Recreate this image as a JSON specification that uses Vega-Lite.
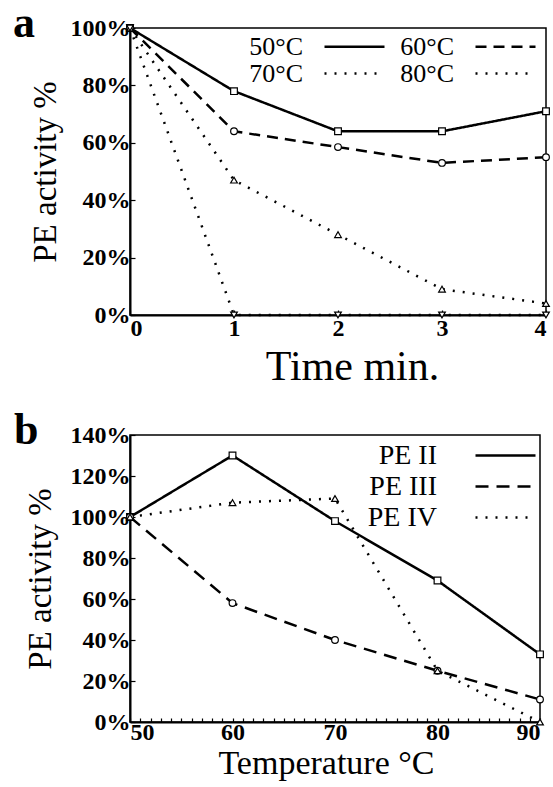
{
  "$schema": "https://vega.github.io/schema/vega-lite/v6.json",
  "background": "white",
  "padding": {"left": 12, "top": 1, "right": 0, "bottom": 0},
  "config": {
    "font": "Liberation Serif",
    "view": {"stroke": "black", "strokeWidth": 1.5},
    "axis": {
      "domainColor": "black", "domainWidth": 2, "tickColor": "black", "tickWidth": 1.2,
      "labelColor": "black", "titleColor": "black", "grid": false,
      "labelFont": "Liberation Serif", "titleFont": "Liberation Serif",
      "labelFontWeight": "bold", "titleFontWeight": "normal"
    },
    "legend": {"labelFont": "Liberation Serif", "labelColor": "black"},
    "title": {"font": "Liberation Serif", "color": "black"},
    "point": {"filled": true, "fill": "white", "stroke": "black", "strokeWidth": 1.2, "size": 45, "opacity": 1}
  },
  "datasets": {
    "a": [
      {"time": 0, "temp": "50°C", "activity": 100},
      {"time": 1, "temp": "50°C", "activity": 78},
      {"time": 2, "temp": "50°C", "activity": 64},
      {"time": 3, "temp": "50°C", "activity": 64},
      {"time": 4, "temp": "50°C", "activity": 71},
      {"time": 0, "temp": "60°C", "activity": 100},
      {"time": 1, "temp": "60°C", "activity": 64},
      {"time": 2, "temp": "60°C", "activity": 58.5},
      {"time": 3, "temp": "60°C", "activity": 53},
      {"time": 4, "temp": "60°C", "activity": 55},
      {"time": 0, "temp": "70°C", "activity": 100},
      {"time": 1, "temp": "70°C", "activity": 47},
      {"time": 2, "temp": "70°C", "activity": 28},
      {"time": 3, "temp": "70°C", "activity": 9},
      {"time": 4, "temp": "70°C", "activity": 4},
      {"time": 0, "temp": "80°C", "activity": 100},
      {"time": 1, "temp": "80°C", "activity": 0},
      {"time": 2, "temp": "80°C", "activity": 0},
      {"time": 3, "temp": "80°C", "activity": 0},
      {"time": 4, "temp": "80°C", "activity": 0}
    ],
    "b": [
      {"temperature": 50, "enzyme": "PE II", "activity": 100},
      {"temperature": 60, "enzyme": "PE II", "activity": 130},
      {"temperature": 70, "enzyme": "PE II", "activity": 98},
      {"temperature": 80, "enzyme": "PE II", "activity": 69},
      {"temperature": 90, "enzyme": "PE II", "activity": 33},
      {"temperature": 50, "enzyme": "PE III", "activity": 100},
      {"temperature": 60, "enzyme": "PE III", "activity": 58},
      {"temperature": 70, "enzyme": "PE III", "activity": 40},
      {"temperature": 80, "enzyme": "PE III", "activity": 25},
      {"temperature": 90, "enzyme": "PE III", "activity": 11},
      {"temperature": 50, "enzyme": "PE IV", "activity": 100},
      {"temperature": 60, "enzyme": "PE IV", "activity": 107},
      {"temperature": 70, "enzyme": "PE IV", "activity": 109},
      {"temperature": 80, "enzyme": "PE IV", "activity": 25},
      {"temperature": 90, "enzyme": "PE IV", "activity": 0}
    ]
  },
  "columns": 1,
  "spacing": 20,
  "resolve": {"scale": {"strokeDash": "independent"}, "legend": {"strokeDash": "independent"}},
  "concat": [
    {
      "width": 416,
      "height": 287,
      "data": {"name": "a"},
      "title": {"text": "a", "anchor": "start", "frame": "bounds", "fontSize": 44, "fontWeight": "bold", "dx": -16, "dy": 30, "offset": 0},
      "encoding": {
        "x": {"field": "time", "type": "quantitative", "scale": {"domain": [0, 4]},
          "axis": {"values": [0, 1, 2, 3, 4], "format": "d", "title": "Time min.", "titleX": 222, "titleFontSize": 42, "labelFontSize": 24, "tickSize": -5, "labelPadding": 6, "titlePadding": 6}},
        "y": {"field": "activity", "type": "quantitative", "scale": {"domain": [0, 100]},
          "axis": {"values": [0, 20, 40, 60, 80, 100], "labelExpr": "datum.value + '%'", "title": "PE activity %", "titleFontSize": 33, "labelFontSize": 24, "tickSize": -5, "labelPadding": 5, "titlePadding": 8}}
      },
      "layer": [
        {
          "mark": {"type": "line", "strokeWidth": 2.5, "color": "black"},
          "encoding": {
            "strokeDash": {"field": "temp", "type": "nominal",
              "scale": {"domain": ["50°C", "60°C", "70°C", "80°C"], "range": [[1, 0], [11, 7], [2, 8], [2, 8]]},
              "legend": {"title": null, "orient": "top-right", "offset": 5, "columns": 2, "direction": "horizontal", "symbolType": "M-1,0H4", "symbolSize": 576, "symbolStrokeWidth": 2.5, "symbolStrokeColor": "black", "symbolFillColor": "transparent", "labelFontSize": 26, "columnPadding": 10, "rowPadding": 0, "labelAlign": "right", "labelOffset": -47}}
          }
        },
        {"transform": [{"filter": "datum.temp == '50°C'"}], "mark": {"type": "point", "shape": "square"}},
        {"transform": [{"filter": "datum.temp == '60°C'"}], "mark": {"type": "point", "shape": "circle"}},
        {"transform": [{"filter": "datum.temp == '70°C'"}], "mark": {"type": "point", "shape": "triangle-up"}},
        {"transform": [{"filter": "datum.temp == '80°C'"}], "mark": {"type": "point", "shape": "triangle-down"}}
      ]
    },
    {
      "width": 410,
      "height": 287,
      "data": {"name": "b"},
      "title": {"text": "b", "anchor": "start", "frame": "bounds", "fontSize": 44, "fontWeight": "bold", "dx": -10, "dy": 30, "offset": 0},
      "encoding": {
        "x": {"field": "temperature", "type": "quantitative", "scale": {"domain": [50, 90]},
          "axis": {"values": [50, 51, 52, 53, 54, 55, 56, 57, 58, 59, 60, 61, 62, 63, 64, 65, 66, 67, 68, 69, 70, 71, 72, 73, 74, 75, 76, 77, 78, 79, 80, 81, 82, 83, 84, 85, 86, 87, 88, 89, 90], "labelExpr": "datum.value % 10 == 0 ? datum.label : ''", "title": "Temperature °C", "titleX": 196, "titleFontSize": 34, "labelFontSize": 24, "tickSize": -4, "labelPadding": 2, "titlePadding": 2}},
        "y": {"field": "activity", "type": "quantitative", "scale": {"domain": [0, 140]},
          "axis": {"values": [0, 20, 40, 60, 80, 100, 120, 140], "labelExpr": "datum.value + '%'", "title": "PE activity %", "titleFontSize": 33, "labelFontSize": 24, "tickSize": -5, "labelPadding": 5, "titlePadding": 13}}
      },
      "layer": [
        {
          "mark": {"type": "line", "strokeWidth": 2.5, "color": "black"},
          "encoding": {
            "strokeDash": {"field": "enzyme", "type": "nominal",
              "scale": {"domain": ["PE II", "PE III", "PE IV"], "range": [[1, 0], [13, 8], [2, 8]]},
              "legend": {"title": null, "orient": "none", "legendX": 344, "legendY": 4, "direction": "vertical", "symbolType": "M-1,0H3", "symbolSize": 900, "symbolStrokeWidth": 2.5, "symbolStrokeColor": "black", "symbolFillColor": "transparent", "labelFontSize": 28, "rowPadding": 0, "labelAlign": "right", "labelOffset": -70}}
          }
        },
        {"transform": [{"filter": "datum.enzyme == 'PE II'"}], "mark": {"type": "point", "shape": "square"}},
        {"transform": [{"filter": "datum.enzyme == 'PE III'"}], "mark": {"type": "point", "shape": "circle"}},
        {"transform": [{"filter": "datum.enzyme == 'PE IV'"}], "mark": {"type": "point", "shape": "triangle-up"}}
      ]
    }
  ]
}
